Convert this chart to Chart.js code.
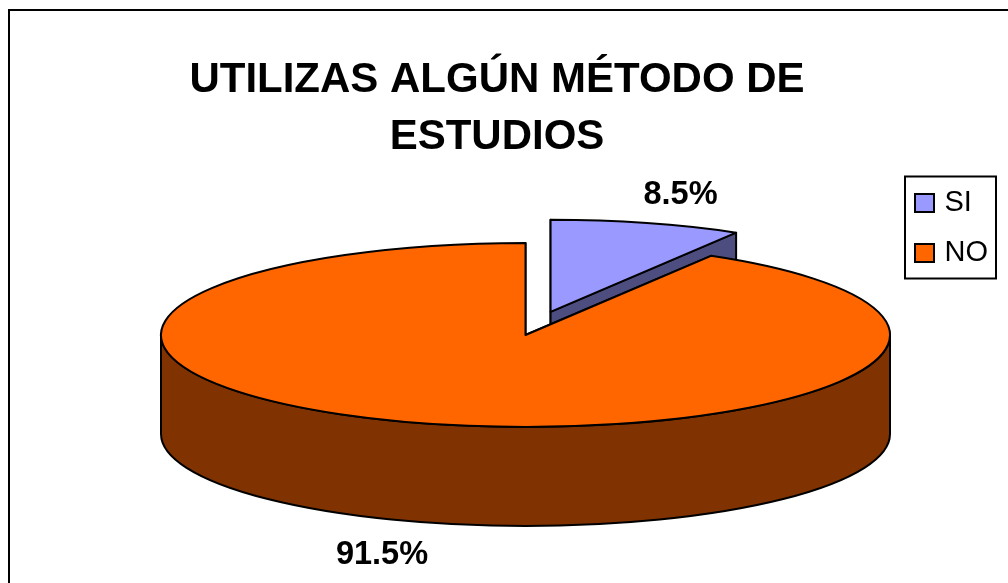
<!DOCTYPE html>
<html>
<head>
<meta charset="utf-8">
<style>
html,body{margin:0;padding:0;background:#fff;overflow:hidden}
canvas{display:block}
</style>
<script src="https://cdn.jsdelivr.net/npm/chart.js@4"></script>
</head>
<body>
<canvas id="c" width="1008" height="583"></canvas>
<script>
const categories = ['SI', 'NO'];
const values = [8.5, 91.5];
const topColors = ['#9999FF', '#FF6600'];
const sideColors = ['#4D4D80', '#803300'];
const explode = [95, 0];
const titleLines = ['UTILIZAS ALGÚN MÉTODO DE', 'ESTUDIOS'];

const FONT = '"Liberation Sans", Arial, sans-serif';
const RX = 364.5, RY = 92, DEPTH = 99;
const PIE_BOX = {left: 161, right: 890, top: 243, bottom: 427};
const PIVOT_Y = (PIE_BOX.top + PIE_BOX.bottom) / 2;
const LABEL_AT = [[680.5, 195], [382, 555]];

// centre and angles of a slice in picture coordinates, after the flattening
function geometry(arc) {
  return {
    cx: arc.x,
    cy: PIVOT_Y + (arc.y - PIVOT_Y) * RY / RX,
    a0: arc.startAngle, a1: arc.endAngle
  };
}
function rim(g, a) { return [g.cx + RX * Math.cos(a), g.cy + RY * Math.sin(a)]; }

const pie3d = {
  id: 'pie3d',
  afterLayout(chart) {
    const area = chart.chartArea;
    area.left = PIE_BOX.left;
    area.right = PIE_BOX.right;
    area.top = PIE_BOX.top;
    area.bottom = PIE_BOX.bottom;
    area.width = PIE_BOX.right - PIE_BOX.left;
    area.height = PIE_BOX.bottom - PIE_BOX.top;
    const lg = chart.legend;
    lg.left = 894; lg.top = 167.5; lg.right = 1008; lg.bottom = 300;
  },
  afterDatasetUpdate(chart) {
    // pull the exploded slice out along its bisector
    chart.getDatasetMeta(0).data.forEach((arc, i) => {
      const mid = (arc.startAngle + arc.endAngle) / 2;
      arc.x += Math.cos(mid) * explode[i];
      arc.y += Math.sin(mid) * explode[i];
    });
  },
  beforeDraw(chart) {
    const ctx = chart.ctx;
    ctx.save();
    ctx.fillStyle = '#fff';
    ctx.fillRect(0, 0, chart.width, chart.height);
    ctx.strokeStyle = '#000';
    ctx.lineWidth = 2;
    ctx.beginPath();
    ctx.moveTo(1100, 10); ctx.lineTo(9, 10); ctx.lineTo(9, 700);
    ctx.stroke();
    ctx.restore();
  },
  beforeDatasetsDraw(chart) {
    const ctx = chart.ctx;
    const arcs = chart.getDatasetMeta(0).data;
    ctx.save();
    ctx.strokeStyle = '#000';
    ctx.lineWidth = 2;
    ctx.lineJoin = 'round';
    arcs.forEach((arc, i) => {
      const g = geometry(arc);
      ctx.fillStyle = sideColors[i];
      [g.a0, g.a1].forEach(a => {
        const r = rim(g, a);
        ctx.beginPath();
        ctx.moveTo(g.cx, g.cy);
        ctx.lineTo(r[0], r[1]);
        ctx.lineTo(r[0], r[1] + DEPTH);
        ctx.lineTo(g.cx, g.cy + DEPTH);
        ctx.closePath();
        ctx.fill();
        ctx.stroke();
      });
    });
    arcs.forEach((arc, i) => {
      const g = geometry(arc);
      // the part of the rim facing the viewer
      const from = Math.max(g.a0, 0), to = Math.min(g.a1, Math.PI);
      if (to <= from) return;
      ctx.fillStyle = sideColors[i];
      ctx.beginPath();
      ctx.ellipse(g.cx, g.cy, RX, RY, 0, from, to);
      ctx.ellipse(g.cx, g.cy + DEPTH, RX, RY, 0, to, from, true);
      ctx.closePath();
      ctx.fill();
      ctx.stroke();
    });
    ctx.restore();
  },
  beforeDatasetDraw(chart) {
    const ctx = chart.ctx;
    ctx.save();
    ctx.translate(0, PIVOT_Y);
    ctx.scale(1, RY / RX);
    ctx.translate(0, -PIVOT_Y);
  },
  afterDatasetDraw(chart) {
    chart.ctx.restore();
  },
  afterDatasetsDraw(chart) {
    const ctx = chart.ctx;
    ctx.save();
    ctx.strokeStyle = '#000';
    ctx.lineWidth = 2;
    ctx.lineJoin = 'round';
    chart.getDatasetMeta(0).data.forEach(arc => {
      const g = geometry(arc);
      ctx.beginPath();
      ctx.moveTo(g.cx, g.cy);
      ctx.ellipse(g.cx, g.cy, RX, RY, 0, g.a0, g.a1);
      ctx.closePath();
      ctx.stroke();
    });
    ctx.restore();
  },
  afterDraw(chart) {
    const ctx = chart.ctx;
    ctx.save();
    ctx.strokeStyle = '#000';
    ctx.lineWidth = 2;
    ctx.strokeRect(905, 176.5, 91, 102);
    // legend swatches run a little wider than the gap before the legend text allows
    topColors.forEach((c, i) => {
      ctx.fillStyle = c;
      ctx.fillRect(915, 194 + i * 50, 19, 18);
      ctx.strokeRect(915, 194 + i * 50, 19, 18);
    });
    ctx.fillStyle = '#000';
    ctx.font = 'bold 32.5px ' + FONT;
    ctx.textAlign = 'center';
    ctx.textBaseline = 'middle';
    values.forEach((v, i) => {
      ctx.fillText(v.toFixed(1) + '%', LABEL_AT[i][0], LABEL_AT[i][1]);
    });
    ctx.restore();
  }
};

new Chart(document.getElementById('c'), {
  type: 'pie',
  data: {
    labels: categories,
    datasets: [{
      data: values,
      backgroundColor: topColors,
      borderColor: '#000',
      borderWidth: 0,
      radius: RX,
      cutout: '0%',
      clip: false
    }]
  },
  plugins: [pie3d],
  options: {
    responsive: false,
    animation: false,
    layout: {padding: {top: 0, right: 14, left: 0, bottom: 0}},
    plugins: {
      tooltip: {enabled: false},
      title: {
        display: true,
        text: titleLines,
        color: '#000',
        font: {family: FONT, size: 42, weight: 'bold', lineHeight: 1.357},
        padding: {top: 51.5, bottom: 0}
      },
      legend: {
        display: true,
        position: 'right',
        align: 'start',
        labels: {
          boxWidth: 15,
          boxHeight: 18,
          padding: 21,
          color: '#000',
          font: {family: FONT, size: 29},
          generateLabels(chart) {
            return Chart.overrides.pie.plugins.legend.labels.generateLabels(chart)
              .map(item => Object.assign(item, {strokeStyle: '#000', lineWidth: 2}));
          }
        }
      }
    }
  }
});
</script>
</body>
</html>
